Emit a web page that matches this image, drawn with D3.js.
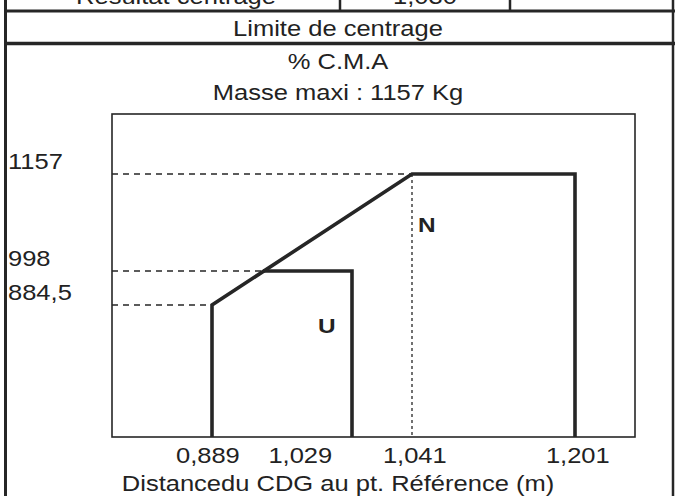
<!DOCTYPE html>
<html>
<head>
<meta charset="utf-8">
<script src="https://cdn.jsdelivr.net/npm/d3@7"></script>
<style>
  body { margin: 0; background: #fff; }
  svg text { font-family: "Liberation Sans", Arial, sans-serif; fill: #222; }
</style>
</head>
<body>
<div id="chart"></div>
<script>
// Chart data (schematic, axes are not proportional in the original)
const xTicks = [0.889, 1.029, 1.041, 1.201];
const yTicks = [1157, 998, 884.5];
const yBase = 600;          // bottom of the plot frame (unlabelled)
const xFrame = [0.80, 1.25];
const yFrame = [600, 1250];

// Envelope N (normal category)
const envN = [
    { x: 0.889, y: yBase },
    { x: 0.889, y: 884.5 },
    { x: 1.041, y: 1157 },
    { x: 1.201, y: 1157 },
    { x: 1.201, y: yBase }
];
// Envelope U (utility category)
const envU = [
    { x: 0.94, y: 998 },
    { x: 1.029, y: 998 },
    { x: 1.029, y: yBase }
];
// Dashed reference lines: mass level -> where it meets the envelope
const massRefs = [
    { y: 1157, x: 1.041 },
    { y: 998, x: 0.94 },
    { y: 884.5, x: 0.889 }
];

function renderCentrage(containerId) {
    const W = 675, H = 496;
    const container = d3.select(`#${containerId}`);
    container.selectAll('*').remove();

    const svg = container.append('svg')
        .attr('width', W)
        .attr('height', H);

    svg.append('rect').attr('width', W).attr('height', H).attr('fill', '#fff');

    const stretch = 'scale(1.16,1)';
    const fs = '22px';
    const fr = d3.formatLocale({ decimal: ',', thousands: '', grouping: [3], currency: ['', ''] });

    // --- table frame --------------------------------------------------------
    const ink = '#262626';
    const frame = svg.append('g').attr('stroke', ink);
    frame.append('line').attr('x1', 5.5).attr('x2', 5.5).attr('y1', 0).attr('y2', H).attr('stroke-width', 3);
    frame.append('line').attr('x1', 673).attr('x2', 673).attr('y1', 0).attr('y2', H).attr('stroke-width', 2.5);
    frame.append('line').attr('x1', 5).attr('x2', 675).attr('y1', 11).attr('y2', 11).attr('stroke-width', 3);
    frame.append('line').attr('x1', 5).attr('x2', 675).attr('y1', 43.5).attr('y2', 43.5).attr('stroke-width', 3.5);
    [340, 510].forEach(xx => {
        frame.append('line').attr('x1', xx).attr('x2', xx).attr('y1', 0).attr('y2', 11).attr('stroke-width', 2.5);
    });

    // header row (cut off at the top of the scan)
    const head = [['Résultat centrage', 176], ['1,030', 425]];
    head.forEach(([t, cx]) => {
        svg.append('text')
            .attr('transform', `translate(${cx},4) ${stretch}`)
            .attr('text-anchor', 'middle')
            .style('font-size', fs)
            .text(t);
    });

    // titles
    const titles = [['Limite de centrage', 36], ['% C.M.A', 69], ['Masse maxi : 1157 Kg', 100]];
    titles.forEach(([t, by]) => {
        svg.append('text')
            .attr('transform', `translate(338,${by}) ${stretch}`)
            .attr('text-anchor', 'middle')
            .style('font-size', fs)
            .text(t);
    });

    // --- plot area ------------------------------------------------------------
    const margin = { left: 112, top: 114, right: 40, bottom: 59 };
    const width = W - margin.left - margin.right;   // 523
    const height = H - margin.top - margin.bottom;  // 323

    const g = svg.append('g').attr('transform', `translate(${margin.left},${margin.top})`);

    // piecewise scales: the original drawing is a schematic
    const x = d3.scaleLinear()
        .domain([xFrame[0], 0.889, 1.029, 1.041, 1.201, xFrame[1]])
        .range([0, 100, 240, 300, 463, width]);
    const y = d3.scaleLinear()
        .domain([yFrame[0], 884.5, 998, 1157, yFrame[1]])
        .range([height, 191, 157, 60, 0]);

    g.append('rect')
        .attr('width', width).attr('height', height)
        .attr('fill', 'none').attr('stroke', ink).attr('stroke-width', 1.6);

    // dashed mass references
    g.selectAll('.ref').data(massRefs).enter().append('line')
        .attr('x1', 0).attr('x2', d => x(d.x))
        .attr('y1', d => y(d.y)).attr('y2', d => y(d.y))
        .attr('stroke', ink).attr('stroke-width', 1.6)
        .attr('stroke-dasharray', '6,5');

    // dotted vertical at 1,041
    g.append('line')
        .attr('x1', x(1.041)).attr('x2', x(1.041))
        .attr('y1', y(1157)).attr('y2', y(yBase))
        .attr('stroke', ink).attr('stroke-width', 1.3)
        .attr('stroke-dasharray', '3,3');

    const line = d3.line().x(d => x(d.x)).y(d => y(d.y));
    [envN, envU].forEach(env => {
        g.append('path')
            .attr('d', line(env))
            .attr('fill', 'none')
            .attr('stroke', ink)
            .attr('stroke-width', 3.6)
            .attr('stroke-linejoin', 'miter');
    });

    // zone labels
    g.append('text')
        .attr('transform', `translate(${x(1.041) + 6},${y(1157) + 58}) ${stretch}`)
        .style('font-size', '21px').style('font-weight', 'bold')
        .text('N');
    g.append('text')
        .attr('transform', `translate(${x(1.029) - 34},${y(998) + 62}) ${stretch}`)
        .style('font-size', '21px').style('font-weight', 'bold')
        .text('U');

    // x axis labels
    const xAxis = g.append('g')
        .attr('transform', `translate(0,${height})`)
        .call(d3.axisBottom(x).tickValues(xTicks).tickSize(0).tickPadding(0)
            .tickFormat(fr.format('.3f')));
    xAxis.select('.domain').remove();
    xAxis.selectAll('text')
        .attr('y', 26).attr('dy', 0)
        .attr('fill', '#222')
        .attr('font-family', null)
        .attr('font-size', null)
        .style('font-size', fs)
        .attr('dx', d => d === 1.029 ? -45 : (d === 0.889 ? -4 : 2))
        .attr('transform', stretch);

    // y labels (at the left edge of the table)
    svg.selectAll('.ylab').data(yTicks).enter().append('text')
        .attr('transform', d => `translate(8,${margin.top + y(d) - 5}) ${stretch}`)
        .style('font-size', fs)
        .text(d => fr.format('~f')(d));

    // x title
    svg.append('text')
        .attr('transform', `translate(338,491) ${stretch}`)
        .attr('text-anchor', 'middle')
        .style('font-size', fs)
        .text('Distancedu CDG au pt. Référence (m)');
}

renderCentrage('chart');
</script>
</body>
</html>
